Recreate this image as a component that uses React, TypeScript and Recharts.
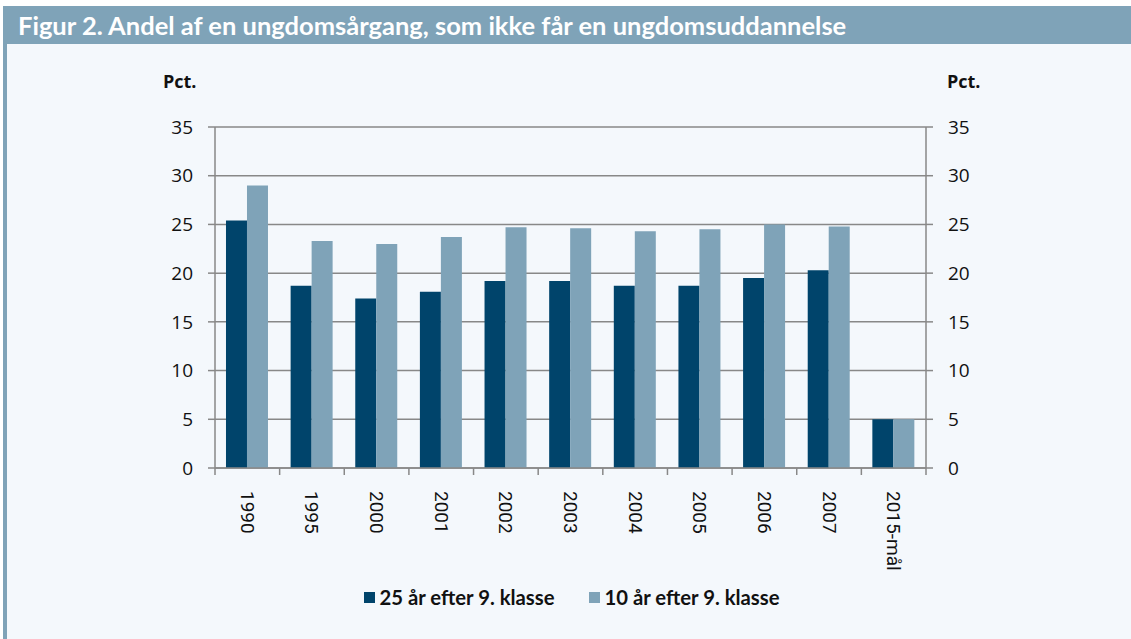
import React from "react";
import { BarChart, Bar, XAxis, YAxis, CartesianGrid } from "recharts";

const categories = ["1990", "1995", "2000", "2001", "2002", "2003", "2004", "2005", "2006", "2007", "2015-mål"];
const after25 = [25.4, 18.7, 17.4, 18.1, 19.2, 19.2, 18.7, 18.7, 19.5, 20.3, 5];
const after10 = [29.0, 23.3, 23.0, 23.7, 24.7, 24.6, 24.3, 24.5, 25.0, 24.8, 5];
const yTicks = [0, 5, 10, 15, 20, 25, 30, 35];

const TITLE = "Figur 2. Andel af en ungdomsårgang, som ikke får en ungdomsuddannelse";
const series = [
  { key: "a25", name: "25 år efter 9. klasse", color: "#00446b", axis: "l" },
  { key: "a10", name: "10 år efter 9. klasse", color: "#7fa3b8", axis: "r" },
];

const data = categories.map((c, i) => ({ name: c, a25: after25[i], a10: after10[i] }));

const W = 1131;
const H = 639;
const PLOT_LEFT = 215;
const PLOT_RIGHT = 926;
const PLOT_TOP = 127;
const AXIS_Y = 468;
const BAND = (PLOT_RIGHT - PLOT_LEFT) / categories.length;
const GRAY = "#888888";
const AXIS_W = 60;
const XAXIS_H = 60;

const XTick = (props: any) => {
  const { x, payload, index } = props;
  const half = BAND / 2;
  return (
    <g>
      <line x1={x - half} x2={x - half} y1={AXIS_Y} y2={AXIS_Y + 7} stroke={GRAY} strokeWidth={1.5} />
      {index === categories.length - 1 && (
        <line x1={x + half} x2={x + half} y1={AXIS_Y} y2={AXIS_Y + 7} stroke={GRAY} strokeWidth={1.5} />
      )}
      <text
        transform={`translate(${x},${AXIS_Y + 23}) rotate(90)`}
        textAnchor="start"
        dominantBaseline="central"
        fontFamily="Roboto"
        fontSize={19}
        fill="#111"
      >
        {payload.value}
      </text>
    </g>
  );
};

const tickStyle = { fontFamily: "'Open Sans'", fontSize: 19, fill: "#111" };

export default function App() {
  return (
    <div style={{ position: "absolute", left: 0, top: 0, width: W, height: H, background: "#fff", overflow: "hidden" }}>
      <div style={{ position: "absolute", left: 3, top: 44, width: W - 3, height: H - 44, background: "#f4f8fc" }} />
      <div style={{ position: "absolute", left: 3, top: 44, width: 4, height: H - 44, background: "#7fa3b8" }} />
      <div
        style={{
          position: "absolute",
          left: 3,
          top: 6,
          width: W - 3,
          height: 38,
          background: "#7fa3b8",
          color: "#fff",
          fontFamily: "Lato",
          fontWeight: 700,
          fontSize: 25.5,
          lineHeight: "38px",
          paddingLeft: 15,
          boxSizing: "border-box",
          whiteSpace: "nowrap",
        }}
      >
        {TITLE}
      </div>
      <div style={{ position: "absolute", left: 163, top: 69, fontFamily: "'Open Sans'", fontWeight: 700, fontSize: 18, color: "#111" }}>
        Pct.
      </div>
      <div style={{ position: "absolute", left: 947, top: 69, fontFamily: "'Open Sans'", fontWeight: 700, fontSize: 18, color: "#111" }}>
        Pct.
      </div>
      <div style={{ position: "absolute", left: 0, top: 0 }}>
        <BarChart
          width={W}
          height={H}
          data={data}
          barGap={0}
          barCategoryGap="17%"
          margin={{
            top: PLOT_TOP,
            bottom: H - AXIS_Y - XAXIS_H,
            left: PLOT_LEFT - AXIS_W,
            right: W - PLOT_RIGHT - AXIS_W,
          }}
        >
          <CartesianGrid yAxisId="l" vertical={false} stroke={GRAY} strokeWidth={1.5} />
          <XAxis
            dataKey="name"
            height={XAXIS_H}
            interval={0}
            tickLine={false}
            axisLine={{ stroke: GRAY, strokeWidth: 1.5 }}
            tick={<XTick />}
          />
          <YAxis
            yAxisId="l"
            width={AXIS_W}
            domain={[0, 35]}
            ticks={yTicks}
            tickSize={7}
            tickMargin={15}
            axisLine={{ stroke: GRAY, strokeWidth: 1.5 }}
            tickLine={{ stroke: GRAY, strokeWidth: 1.5 }}
            tick={tickStyle}
          />
          <YAxis
            yAxisId="r"
            orientation="right"
            width={AXIS_W}
            domain={[0, 35]}
            ticks={yTicks}
            tickSize={7}
            tickMargin={15}
            axisLine={{ stroke: GRAY, strokeWidth: 1.5 }}
            tickLine={{ stroke: GRAY, strokeWidth: 1.5 }}
            tick={{ ...tickStyle, textAnchor: "start" }}
          />
          {series.map((s) => (
            <Bar key={s.key} yAxisId={s.axis} dataKey={s.key} name={s.name} fill={s.color} isAnimationActive={false} />
          ))}
        </BarChart>
      </div>
      <div
        style={{
          position: "absolute",
          left: 6,
          top: 585,
          width: W,
          display: "flex",
          justifyContent: "center",
          gap: 34,
          fontFamily: "Lato",
          fontWeight: 700,
          fontSize: 20.3,
          color: "#111",
        }}
      >
        {series.map((s) => (
          <div key={s.key} style={{ display: "flex", alignItems: "center" }}>
            <span style={{ display: "inline-block", width: 11, height: 11, background: s.color, marginRight: 5 }} />
            {s.name}
          </div>
        ))}
      </div>
    </div>
  );
}
